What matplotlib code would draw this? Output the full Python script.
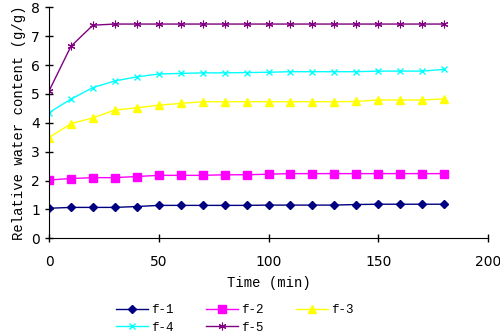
import matplotlib.pyplot as plt

# time points (min)
time = [0, 10, 20, 30, 40, 50, 60, 70, 80, 90, 100, 110, 120, 130, 140, 150, 160, 170, 180]

# relative water content (g/g)
f1 = [1.04, 1.07, 1.07, 1.07, 1.10, 1.14, 1.14, 1.14, 1.14, 1.14, 1.15, 1.15, 1.15, 1.15, 1.17, 1.18, 1.18, 1.18, 1.18]
f2 = [2.02, 2.07, 2.10, 2.10, 2.14, 2.18, 2.18, 2.18, 2.20, 2.20, 2.22, 2.24, 2.24, 2.24, 2.24, 2.24, 2.24, 2.24, 2.24]
f3 = [3.49, 3.97, 4.17, 4.44, 4.52, 4.61, 4.67, 4.73, 4.73, 4.73, 4.73, 4.73, 4.73, 4.73, 4.74, 4.79, 4.79, 4.79, 4.83]
f4 = [4.35, 4.82, 5.22, 5.45, 5.59, 5.69, 5.71, 5.73, 5.73, 5.74, 5.75, 5.77, 5.77, 5.77, 5.77, 5.79, 5.79, 5.79, 5.85]
f5 = [5.10, 6.65, 7.38, 7.42, 7.42, 7.42, 7.42, 7.42, 7.42, 7.42, 7.42, 7.42, 7.42, 7.42, 7.42, 7.42, 7.42, 7.42, 7.42]

series_names = ['f-1', 'f-2', 'f-3', 'f-4', 'f-5']

mono = 'Liberation Mono'

fig = plt.figure(figsize=(5.0, 3.35), dpi=100)
ax = fig.add_axes([49 / 500, 1 - 238.3 / 335, (488 - 49) / 500, (238.3 - 7.3) / 335])

h1, = ax.plot(time, f1, color='#000080', marker='D', markersize=4.5, lw=1, label=series_names[0])
h2, = ax.plot(time, f2, color='#FF00FF', marker='s', markersize=5.5, lw=1, label=series_names[1])
h3, = ax.plot(time, f3, color='#FFFF00', marker='^', markersize=6, lw=1, label=series_names[2])
h4, = ax.plot(time, f4, color='#00FFFF', marker='x', markersize=5, mew=1, lw=1, label=series_names[3])
h5, = ax.plot(time, f5, color='#800080', marker=(6, 2, 0), markersize=5.5, mew=0.8, lw=1, label=series_names[4])

ax.set_xlim(0, 200)
ax.set_ylim(0, 8)
ax.set_xticks([0, 50, 100, 150, 200])
ax.set_yticks(range(0, 9))
ax.spines['top'].set_visible(False)
ax.spines['right'].set_visible(False)
ax.tick_params(direction='inout', length=6, width=1, labelsize=10)
ax.tick_params(axis='x', pad=9)

ax.set_xlabel('Time (min)', fontfamily=mono, fontsize=10, labelpad=5)
ax.set_ylabel('Relative water content (g/g)', fontfamily=mono, fontsize=10, labelpad=4)

# row-wise order like the original legend
handles = [h1, h4, h2, h5, h3]
fig.legend(handles, [h.get_label() for h in handles],
           loc='lower left', bbox_to_anchor=(115 / 500, 0.0), ncol=3, frameon=False,
           prop={'family': mono, 'size': 9}, handlelength=2.5, columnspacing=2.6,
           handletextpad=0.3, labelspacing=0.45, borderaxespad=0.0, borderpad=0.1)

fig.savefig('out.png', dpi=100)
